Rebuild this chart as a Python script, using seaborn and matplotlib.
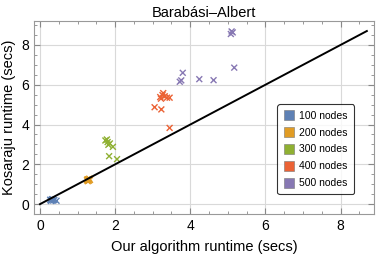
import pandas as pd
import matplotlib
matplotlib.use("Agg")
import matplotlib.pyplot as plt
import matplotlib.ticker as mtick
from matplotlib.lines import Line2D
import seaborn as sns

# valores (segundos)
grupos = ["100 nodes", "200 nodes", "300 nodes", "400 nodes", "500 nodes"]
cores = ["#5E81B5", "#E19C24", "#8FB032", "#EB6235", "#8778B3"]

x_100 = [0.27, 0.30, 0.32, 0.35, 0.38, 0.44, 0.29, 0.33]
y_100 = [0.22, 0.20, 0.24, 0.18, 0.21, 0.17, 0.16, 0.25]
x_200 = [1.25, 1.28, 1.30, 1.33, 1.27, 1.31, 1.29, 1.26]
y_200 = [1.20, 1.25, 1.18, 1.22, 1.15, 1.28, 1.21, 1.24]
x_300 = [1.74, 1.78, 1.80, 1.86, 1.94, 1.82, 1.84, 2.05]
y_300 = [3.20, 3.25, 3.12, 3.05, 2.88, 2.98, 2.41, 2.26]
x_400 = [3.05, 3.23, 3.20, 3.28, 3.32, 3.38, 3.45, 3.26, 3.22, 3.45]
y_400 = [4.87, 4.76, 5.38, 5.58, 5.42, 5.35, 5.35, 5.48, 5.30, 3.83]
x_500 = [3.72, 3.76, 3.80, 4.24, 4.62, 5.08, 5.13, 5.10, 5.17]
y_500 = [6.15, 6.22, 6.60, 6.28, 6.23, 8.55, 8.63, 8.68, 6.86]

df = pd.concat([
    pd.DataFrame({"ours": xs, "kosaraju": ys, "grupo": g})
    for g, xs, ys in zip(grupos,
                         [x_100, x_200, x_300, x_400, x_500],
                         [y_100, y_200, y_300, y_400, y_500])
])

diagonal = [0, 8.7]

plt.rcParams["font.family"] = ["Liberation Sans", "DejaVu Sans"]

fig, ax = plt.subplots(figsize=(3.82, 2.57), dpi=100)
fig.subplots_adjust(left=0.089, right=0.98, top=0.918, bottom=0.167)

ax.grid(True, color="#d9d9d9", linewidth=0.8)
ax.set_axisbelow(True)

sns.scatterplot(data=df, x="ours", y="kosaraju", hue="grupo",
                palette=cores, marker="x", s=18, linewidth=1.0,
                legend=False, ax=ax)
ax.plot(diagonal, diagonal, color="black", linewidth=1.4)

ax.set_xlim(-0.16, 8.9)
ax.set_ylim(-0.5, 9.2)
ax.xaxis.set_major_locator(mtick.MultipleLocator(2))
ax.yaxis.set_major_locator(mtick.MultipleLocator(2))
ax.xaxis.set_minor_locator(mtick.MultipleLocator(0.5))
ax.yaxis.set_minor_locator(mtick.MultipleLocator(0.5))
ax.tick_params(which="both", direction="in", top=True, right=True,
               colors="#888888", labelcolor="black", labelsize=10)
ax.tick_params(which="major", length=4)
ax.tick_params(which="minor", length=2)
ax.tick_params(labeltop=False, labelright=False)
for spine in ax.spines.values():
    spine.set_color("#999999")

ax.set_xlabel("Our algorithm runtime (secs)", fontsize=10.5, labelpad=5)
ax.set_ylabel("Kosaraju runtime (secs)", fontsize=10.5, labelpad=4)
ax.set_title("Barabási–Albert", fontsize=10.5, pad=3)

handles = [Line2D([], [], marker="s", linestyle="", markersize=7,
                  markerfacecolor=c, markeredgecolor="#777777",
                  markeredgewidth=0.4)
           for c in cores]
leg = ax.legend(handles, grupos, loc="center left",
                bbox_to_anchor=(0.70, 0.335), fontsize=7.5,
                frameon=True, fancybox=True, edgecolor="black",
                handletextpad=0.5, borderpad=0.6, labelspacing=0.66,
                handlelength=1.0)
leg.get_frame().set_linewidth(0.8)

fig.savefig("out.png", dpi=100)
